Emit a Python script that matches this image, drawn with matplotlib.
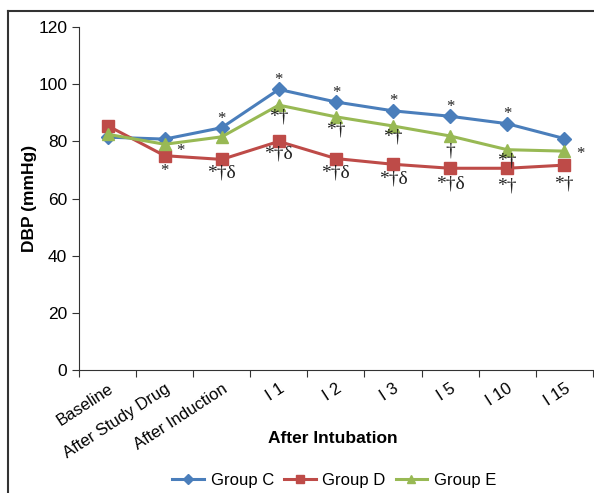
import matplotlib
matplotlib.use("Agg")
import matplotlib.pyplot as plt
from matplotlib.lines import Line2D

plt.rcParams['font.family'] = ['Liberation Sans', 'DejaVu Sans']

categories = ["Baseline", "After Study Drug", "After Induction", "I 1", "I 2", "I 3", "I 5", "I 10", "I 15"]
group_c = [81.5, 80.8, 84.8, 98.2, 93.8, 90.7, 88.8, 86.2, 81.0]
group_d = [85.5, 75.0, 73.7, 80.0, 74.0, 72.0, 70.6, 70.6, 71.7]
group_e = [82.5, 79.0, 81.6, 92.7, 88.6, 85.4, 81.9, 77.1, 76.6]

# annotations: (category index, label, value, position)
annotations = [
    (1, "*", 76.5, "right"), (1, "*", 69.5, "center"),
    (2, "*", 88.0, "center"), (2, "*\u2020\u03b4", 69.0, "center"),
    (3, "*", 101.5, "center"), (3, "*\u2020", 88.5, "center"), (3, "*\u2020\u03b4", 75.5, "center"),
    (4, "*", 97.0, "center"), (4, "*\u2020", 84.0, "center"), (4, "*\u2020\u03b4", 69.0, "center"),
    (5, "*", 94.0, "center"), (5, "*\u2020", 81.5, "center"), (5, "*\u2020\u03b4", 67.0, "center"),
    (6, "*", 92.0, "center"), (6, "\u2020", 76.5, "center"), (6, "*\u2020\u03b4", 65.0, "center"),
    (7, "*", 89.5, "center"), (7, "*\u2020", 73.0, "center"), (7, "*\u2020", 64.5, "center"),
    (8, "*", 75.5, "right"), (8, "*\u2020", 65.0, "center"),
]

fig = plt.figure(figsize=(5.94, 4.93), dpi=100)
ax = fig.add_axes([0.133, 0.2495, 0.865, 0.6955])

x = list(range(len(categories)))
ax.plot(x, group_c, color="#4a7ebb", marker="D", markersize=7, linewidth=2.2, label="Group C")
ax.plot(x, group_d, color="#be4b48", marker="s", markersize=8, linewidth=2.2, label="Group D")
ax.plot(x, group_e, color="#98b954", marker="^", markersize=9, linewidth=2.2, label="Group E")

for i, lab, val, pos in annotations:
    xo = i + (0.28 if pos == "right" else 0.0)
    fs = 12 if lab == "*" else 14
    ax.text(xo, val, lab, ha="center", va="center", fontsize=fs, color="#222222",
            family=['Liberation Serif', 'DejaVu Serif'])

ax.set_xlim(-0.5, len(categories) - 0.5)
ax.set_ylim(0, 120)
ax.set_yticks(range(0, 121, 20))
ax.set_xticks([i + 0.5 for i in range(-1, len(categories))], minor=False)
ax.set_xticklabels([])
ax.set_xticks(x, minor=True)
ax.set_xticklabels(categories, minor=True, rotation=33, ha="right", rotation_mode="anchor", fontsize=12)
ax.tick_params(axis="x", which="minor", length=0, pad=8)
ax.tick_params(axis="x", which="major", direction="out", length=5, color="#333333")
ax.tick_params(axis="y", direction="out", length=5, labelsize=12.5, color="#333333")
for s in ["top", "right"]:
    ax.spines[s].set_visible(False)
for s in ["left", "bottom"]:
    ax.spines[s].set_color("#333333")
ax.set_ylabel("DBP (mmHg)", fontsize=12.5, fontweight="bold")
ax.set_xlabel("After Intubation", fontsize=12.5, fontweight="bold")
ax.xaxis.set_label_coords(0.494, -0.178)
ax.yaxis.set_label_coords(-0.081, 0.5)

ax.legend(loc="center", bbox_to_anchor=(0.497, -0.322), ncol=3, frameon=False,
          fontsize=12, handlelength=1.9, columnspacing=0.6, handletextpad=0.4, markerscale=0.7)

fig.add_artist(Line2D([8/594, 8/594], [0, 1 - 11/493], color="#333333", linewidth=1.5))
fig.add_artist(Line2D([8/594, 1], [1 - 11/493, 1 - 11/493], color="#333333", linewidth=1.5))

fig.savefig("out.png", dpi=100)
